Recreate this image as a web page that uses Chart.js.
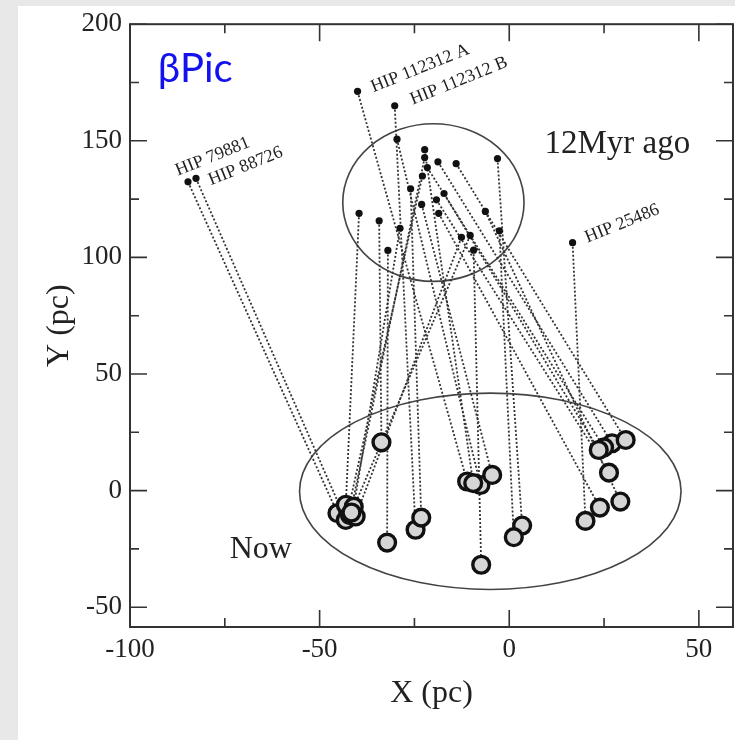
<!DOCTYPE html>
<html>
<head>
<meta charset="utf-8">
<script src="https://cdn.jsdelivr.net/npm/chart.js@4/dist/chart.umd.min.js"></script>
<style>
  html, body { margin: 0; padding: 0; background: #fff; }
  canvas { display: block; }
</style>
</head>
<body>
<canvas id="motion-chart" width="735" height="740"></canvas>
<script>
// Galactic X / Y positions (pc) of the members 12 Myr ago
var pastX = [-84.7, -82.6, -40.0, -30.2, -29.6, -22.3, -22.3, -18.8, -14.0, -3.1, -21.6, -22.9, -26.0, -17.2,
             -23.1, -19.2, -18.6, -39.6, -34.3, -28.8, -32.0, -6.3, -2.6, -12.6, -10.3, -9.4, 16.7];
var pastY = [132.4, 133.9, 171.2, 165.0, 150.7, 146.2, 142.8, 141.0, 140.2, 142.4, 138.5, 134.9, 129.4, 127.4,
             122.7, 124.7, 118.9, 118.9, 115.7, 112.5, 103.0, 119.7, 111.4, 108.6, 109.4, 103.1, 106.3];
// present-day positions (pc), same order
var nowX = [-45.3, -43.1, -11.1, -24.7, -7.6, -9.5, -42.0, 27.1, 30.7, 3.4, 25.0, -42.5, -23.2, 23.6,
            -4.5, 26.3, 23.9, -43.1, -33.7, -41.0, -32.2, 29.3, 1.2, -40.5, -41.6, -7.4, 20.1];
var nowY = [-9.7, -12.6, 3.9, -16.8, 2.4, 3.2, -10.5, 20.3, 21.7, -15.0, 18.5, -8.5, -11.6, 17.4,
            6.7, 7.7, -7.3, -6.1, 20.7, -6.9, -22.3, -4.7, -20.0, -11.1, -9.4, -31.8, -13.0];
var starNames = ['HIP 79881', 'HIP 88726', 'HIP 112312 A', 'HIP 112312 B', '', '', '', '', '', '', '', '', '', '',
                 '', '', '', '', '', '', '', '', '', '', '', '', 'HIP 25486'];

var xTicks = [-100, -50, 0, 50];
var yTicks = [-50, 0, 50, 100, 150, 200];

// group outlines: centre x, centre y, half width, half height (pc)
var groupPast = [-20, 123.5, 23.9, 33.8];
var groupNow = [-5, -0.3, 50.3, 42.1];

// pixel offsets of the rotated star names from their old position
var nameOffset = {
  'HIP 79881': [-10, -6],
  'HIP 88726': [15, 7],
  'HIP 112312 A': [16, 1],
  'HIP 112312 B': [18, -1],
  'HIP 25486': [15, 0]
};

var serif = 'Liberation Serif, Times New Roman, serif';
var ink = '#222';

var datasets = [];
datasets.push({
  label: 'now',
  data: nowX.map(function (x, i) { return { x: x, y: nowY[i] }; }),
  pointRadius: 8.4,
  pointBackgroundColor: '#d6d6d6',
  pointBorderColor: '#111',
  pointBorderWidth: 3.4,
  order: 0
});
datasets.push({
  label: '12 Myr ago',
  data: pastX.map(function (x, i) { return { x: x, y: pastY[i] }; }),
  pointRadius: 3.6,
  pointBackgroundColor: '#111',
  pointBorderWidth: 0,
  order: 1
});
// one dotted track per star
pastX.forEach(function (x, i) {
  datasets.push({
    data: [{ x: x, y: pastY[i] }, { x: nowX[i], y: nowY[i] }],
    showLine: true,
    borderColor: '#333',
    borderWidth: 1.8,
    borderDash: [2, 2],
    pointRadius: 0,
    order: 2
  });
});

function outline(chart, g) {
  var xs = chart.scales.x, ys = chart.scales.y, ctx = chart.ctx;
  var cx = xs.getPixelForValue(g[0]), cy = ys.getPixelForValue(g[1]);
  var rx = Math.abs(xs.getPixelForValue(g[0] + g[2]) - cx);
  var ry = Math.abs(ys.getPixelForValue(g[1] + g[3]) - cy);
  ctx.beginPath();
  ctx.ellipse(cx, cy, rx, ry, 0, 0, Math.PI * 2);
  ctx.stroke();
}

function textAt(chart, str, x, y, font, color) {
  var ctx = chart.ctx;
  ctx.font = font;
  ctx.fillStyle = color;
  ctx.textAlign = 'left';
  ctx.textBaseline = 'alphabetic';
  ctx.fillText(str, chart.scales.x.getPixelForValue(x), chart.scales.y.getPixelForValue(y));
}

var decorations = {
  id: 'decorations',
  // the frame runs almost to the right edge of the canvas
  afterLayout: function (chart) {
    var xs = chart.scales.x, a = chart.chartArea;
    var right = chart.width - 2;
    a.right = right;
    a.width = right - a.left;
    xs.right = right;
    xs.width = right - xs.left;
    xs.configure();
  },
  beforeDraw: function (chart) {
    var ctx = chart.ctx;
    ctx.save();
    ctx.fillStyle = '#fff';
    ctx.fillRect(0, 0, chart.width, chart.height);
    ctx.fillStyle = '#e8e8e8';
    ctx.fillRect(0, 0, 18, chart.height);
    ctx.fillRect(0, 0, chart.width, 6);
    ctx.restore();
  },
  beforeDatasetsDraw: function (chart) {
    var ctx = chart.ctx;
    ctx.save();
    ctx.strokeStyle = '#444';
    ctx.lineWidth = 1.6;
    outline(chart, groupPast);
    outline(chart, groupNow);
    ctx.restore();
  },
  afterDatasetsDraw: function (chart) {
    var ctx = chart.ctx, a = chart.chartArea;
    var xs = chart.scales.x, ys = chart.scales.y;
    ctx.save();
    ctx.strokeStyle = '#333';
    ctx.lineWidth = 2;
    ctx.strokeRect(a.left, a.top, a.right - a.left, a.bottom - a.top);

    // inward ticks on all four sides, long every 50, short every 25
    ctx.lineWidth = 1.6;
    ctx.beginPath();
    var v, p, len;
    for (v = Math.ceil(xs.min / 25) * 25; v <= xs.max; v += 25) {
      p = xs.getPixelForValue(v);
      len = v % 50 === 0 ? 17 : 9;
      ctx.moveTo(p, a.bottom); ctx.lineTo(p, a.bottom - len);
      ctx.moveTo(p, a.top); ctx.lineTo(p, a.top + len);
    }
    for (v = Math.ceil(ys.min / 25) * 25; v <= ys.max; v += 25) {
      p = ys.getPixelForValue(v);
      len = v % 50 === 0 ? 17 : 9;
      ctx.moveTo(a.left, p); ctx.lineTo(a.left + len, p);
      ctx.moveTo(a.right, p); ctx.lineTo(a.right - len, p);
    }
    ctx.stroke();

    // star names along the old positions
    ctx.font = '18px ' + serif;
    ctx.fillStyle = ink;
    ctx.textBaseline = 'alphabetic';
    starNames.forEach(function (name, i) {
      if (!name) return;
      var off = nameOffset[name] || [12, 0];
      ctx.save();
      ctx.translate(xs.getPixelForValue(pastX[i]) + off[0], ys.getPixelForValue(pastY[i]) + off[1]);
      ctx.rotate(-22 * Math.PI / 180);
      ctx.fillText(name, 0, 0);
      ctx.restore();
    });

    textAt(chart, '12Myr ago', 9.3, 144.8, '33px ' + serif, ink);
    textAt(chart, 'Now', -73.7, -28.7, '32px ' + serif, ink);
    textAt(chart, 'βPic', -92.7, 175.3, '40px Lato, "Open Sans", sans-serif', '#1212ee');
    ctx.restore();
  }
};

var chart = new Chart(document.getElementById('motion-chart').getContext('2d'), {
  type: 'scatter',
  data: { datasets: datasets },
  options: {
    responsive: false,
    animation: false,
    devicePixelRatio: 1,
    layout: { padding: { top: 24, right: 2, left: 0, bottom: 0 } },
    plugins: { legend: { display: false }, tooltip: { enabled: false } },
    scales: {
      x: {
        type: 'linear',
        min: -100,
        max: 59,
        afterBuildTicks: function (s) { s.ticks = xTicks.map(function (v) { return { value: v }; }); },
        afterFit: function (s) { s.height = 113; },
        grid: { display: false, drawTicks: false },
        border: { display: false },
        ticks: {
          padding: 7,
          color: ink,
          maxRotation: 0,
          autoSkip: false,
          font: { family: serif, size: 27 },
          callback: function (v) { return String(v); }
        },
        title: {
          display: true,
          text: 'X (pc)',
          color: ink,
          font: { family: serif, size: 32, lineHeight: 1 },
          padding: { top: 0, bottom: 30 }
        }
      },
      y: {
        type: 'linear',
        min: -58.5,
        max: 200,
        afterBuildTicks: function (s) { s.ticks = yTicks.map(function (v) { return { value: v }; }); },
        afterFit: function (s) { s.width = 130; },
        grid: { display: false, drawTicks: false },
        border: { display: false },
        ticks: {
          padding: 8,
          color: ink,
          autoSkip: false,
          font: { family: serif, size: 27 },
          callback: function (v) { return String(v); }
        },
        title: {
          display: true,
          text: 'Y (pc)',
          color: ink,
          font: { family: serif, size: 32, lineHeight: 1 },
          padding: { top: 44, bottom: 0 }
        }
      }
    }
  },
  plugins: [decorations]
});
</script>
</body>
</html>
